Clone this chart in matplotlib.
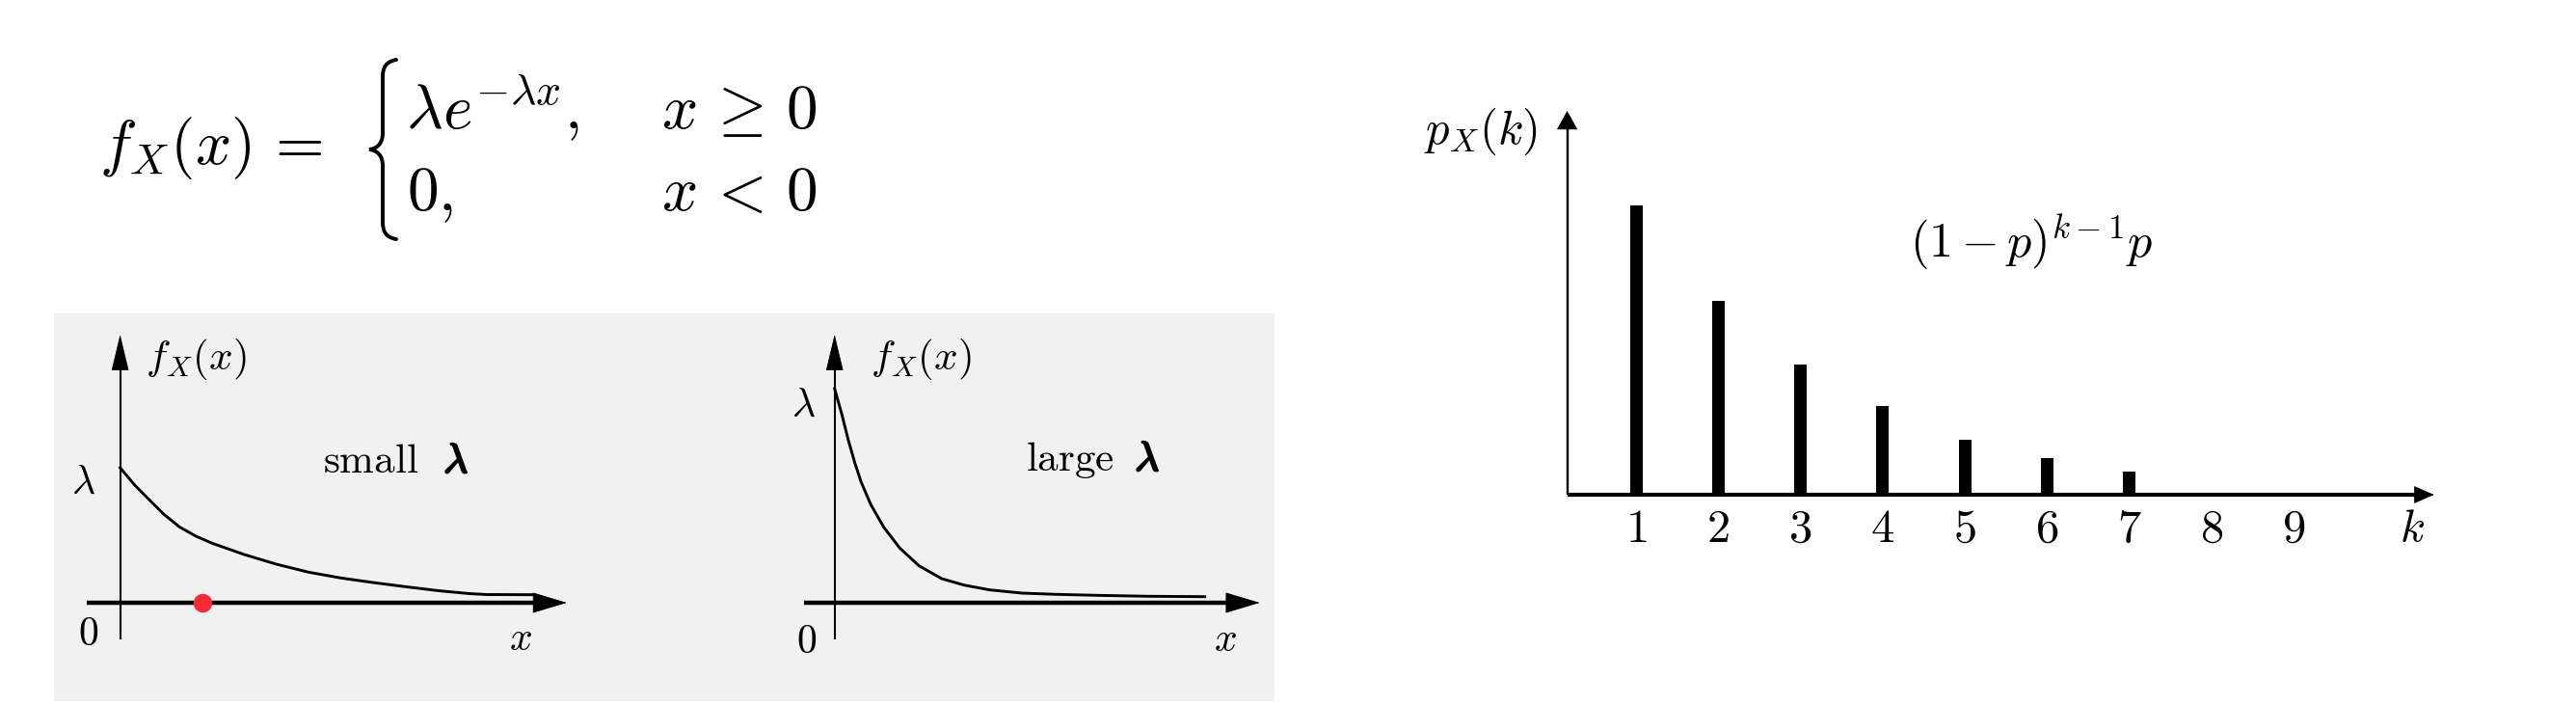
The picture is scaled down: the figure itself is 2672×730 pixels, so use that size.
import matplotlib

matplotlib.use("Agg")

import matplotlib.pyplot as plt
import matplotlib.patheffects as pe
from matplotlib.patches import PathPatch, Rectangle
from matplotlib.path import Path

plt.rcParams["mathtext.fontset"] = "cm"

W, H = 2672, 730

# exponential pdf sketches (offset from origin, height; both in px)
small_x = [0, 15.4, 28.7, 45.4, 62, 78.7, 95.4, 128.7, 162, 195.4, 228.7, 262, 295.4, 330, 362, 380, 429.6]
small_y = [140, 121.7, 108.3, 91.7, 78.3, 69, 61.7, 50, 40, 31.7, 25.7, 21, 16.7, 12.5, 9.5, 8.5, 8.3]
large_x = [0, 7.6, 14.3, 21, 27.6, 37.6, 51, 67.6, 87.6, 111, 134.3, 161, 194.3, 230, 271.4, 325, 384]
large_y = [222, 195, 168.3, 145, 125, 101.7, 78.3, 56.7, 38.3, 25, 18.3, 13.3, 10, 8.7, 7.7, 6.7, 6.3]
red_dot_x = 85.4

# geometric pmf stems
k_values = [1, 2, 3, 4, 5, 6, 7]
pmf_values = [1.0, 0.671, 0.449, 0.308, 0.19, 0.127, 0.079]
tick_k = [1, 2, 3, 4, 5, 6, 7, 8, 9]


def fx(px):
    return px / W


def fy(py):
    return 1 - py / H


def pixel_axes(fig, x0, y0, x1, y1):
    return fig.add_axes([fx(x0), fy(y1), (x1 - x0) / W, (y1 - y0) / H])


def arrow_head(ax, start, tip, length, width, color="black"):
    ax.annotate(
        "",
        xy=tip,
        xytext=start,
        arrowprops=dict(
            arrowstyle=f"-|>,head_length={length},head_width={width}",
            mutation_scale=1,
            lw=0.6,
            color=color,
            shrinkA=0,
            shrinkB=0,
        ),
    )


def draw_panel(fig, ox, oy, xs, ys, lam_y, lam_pos, label_x, word, word_x, bold_lam_x, word_y,
               zero_pos, x_pos, x_left, x_tip, dot=None):
    ax = pixel_axes(fig, ox - 75, 330, ox + 480, 720)
    ax.set_xlim(-75, 480)
    ax.set_ylim(oy - 720, oy - 330)
    ax.set_axis_off()

    # axes with arrows
    ax.plot([x_left, x_tip - 20], [0, 0], color="black", lw=3.2, solid_capstyle="butt")
    arrow_head(ax, (x_tip - 40, 0), (x_tip, 0), 24, 7.2)
    ax.plot([0, 0], [-38, 258], color="black", lw=1.5, solid_capstyle="butt")
    arrow_head(ax, (0, 238), (0, 278), 25, 6)

    ax.plot(xs, ys, color="black", lw=2.1, solid_joinstyle="round")
    if dot is not None:
        ax.plot([dot], [0], "o", color="#f42a36", ms=14, mec="none", zorder=5)

    ax.text(label_x, oy - 373, r"$f_X(x)$", fontsize=31, ha="left", va="center")
    ax.text(lam_pos - ox, oy - lam_y, r"$\lambda$", fontsize=30, ha="center", va="center")
    ax.text(word_x - ox, oy - word_y, word, fontsize=31, ha="center", va="baseline")
    ax.text(bold_lam_x - ox, oy - word_y, r"$\lambda$", fontsize=31, ha="center", va="baseline",
            path_effects=[pe.withStroke(linewidth=1.6, foreground="black")])
    ax.text(zero_pos[0] - ox, oy - zero_pos[1], r"$0$", fontsize=30, ha="center", va="center")
    ax.text(x_pos[0] - ox, oy - x_pos[1], r"$x$", fontsize=30, ha="center", va="center")
    return ax


fig = plt.figure(figsize=(W / 100, H / 100), dpi=100)
fig.patch.set_facecolor("white")

# grey backdrop behind the two pdf sketches
fig.patches.append(
    Rectangle((fx(56), fy(727)), (1322 - 56) / W, (727 - 325) / H, transform=fig.transFigure,
              facecolor="#f1f1f1", edgecolor="none", zorder=-5)
)

# piecewise formula
fs_eq = 47
fig.text(fx(103), fy(170), r"$f_X(x)\,=$", fontsize=fs_eq, ha="left", va="baseline")
fig.text(fx(421), fy(133), r"$\lambda e^{-\lambda x},$", fontsize=fs_eq, ha="left", va="baseline")
fig.text(fx(686), fy(133), r"$x\,\geq\,\mathsf{0}$", fontsize=fs_eq, ha="left", va="baseline")
fig.text(fx(422), fy(218), r"$\mathsf{0},$", fontsize=fs_eq, ha="left", va="baseline")
fig.text(fx(686), fy(218), r"$x\,<\,\mathsf{0}$", fontsize=fs_eq, ha="left", va="baseline")

brace_px = [
    (411, 62), (400, 64), (397, 70), (397, 80),
    (397, 138),
    (397, 148), (392, 154), (383, 155),
    (392, 156), (397, 162), (397, 172),
    (397, 230),
    (397, 240), (400, 246), (411, 248),
]
brace_codes = [Path.MOVETO, Path.CURVE4, Path.CURVE4, Path.CURVE4, Path.LINETO,
               Path.CURVE4, Path.CURVE4, Path.CURVE4, Path.CURVE4, Path.CURVE4, Path.CURVE4,
               Path.LINETO, Path.CURVE4, Path.CURVE4, Path.CURVE4]
brace = Path([(fx(x), fy(y)) for x, y in brace_px], brace_codes)
fig.patches.append(PathPatch(brace, transform=fig.transFigure, facecolor="none",
                             edgecolor="black", lw=2.8, capstyle="round"))

# small lambda sketch
draw_panel(fig, 124.6, 625, small_x, small_y, 500, 86.4, 26,
           r"$\mathrm{small}$", 385, 473, 490, (91.8, 657), (540, 662),
           -34.6, 463.4, dot=red_dot_x)
# large lambda sketch
draw_panel(fig, 865.7, 625, large_x, large_y, 420, 833.6, 37,
           r"$\mathrm{large}$", 1110, 1190, 488, (837, 665), (1271, 663),
           -32, 441)

# geometric pmf
ax = pixel_axes(fig, 1440, 80, 2600, 600)
k0, dk = 1697, 85.3
ax.set_xlim(1 + (1440 - k0) / dk, 1 + (2600 - k0) / dk)
ax.set_ylim((513 - 600) / 300, (513 - 80) / 300)
ax.set_frame_on(False)
y_axis_k = 1 + (1625.6 - k0) / dk
tip_k = 1 + (2524.7 - k0) / dk
ax.bar(k_values, pmf_values, width=13 / dk, color="black", zorder=3)
ax.plot([y_axis_k, tip_k - 0.15], [0, 0], color="black", lw=3.0, solid_capstyle="butt")
arrow_head(ax, (tip_k - 0.4, 0), (tip_k, 0), 13.7, 6)
ax.plot([y_axis_k, y_axis_k], [0, 1.30], color="black", lw=1.7, solid_capstyle="butt")
arrow_head(ax, (y_axis_k, 1.2), (y_axis_k, 1.327), 13, 7.2)

ax.spines["bottom"].set_position(("data", 0))
ax.set_xticks(tick_k)
ax.set_xticklabels([rf"$\mathsf{{{k}}}$" for k in tick_k], fontsize=35)
ax.tick_params(axis="x", length=0, pad=8)
ax.set_yticks([])

ax.text(1 + (2502 - k0) / dk, (513 - 548) / 300, r"$k$", fontsize=34, ha="center", va="center")
ax.text(1 + (1595 - k0) / dk, (513 - 136) / 300, r"$p_X(k)$", fontsize=35, ha="right", va="center")
ax.text(1 + (1981 - k0) / dk, (513 - 267) / 300, r"$(1-p)^{k-1}p$", fontsize=36, ha="left", va="baseline")

fig.savefig("out.png", dpi=100)
